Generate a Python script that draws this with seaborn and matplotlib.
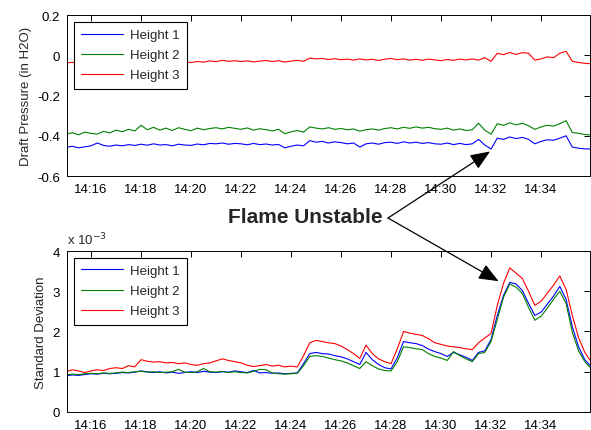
import numpy as np
import pandas as pd
import seaborn as sns
import matplotlib.pyplot as plt

# time axis: minutes after 14:15:00, one reading every 15 s
minutes = np.arange(85) * 0.25

tick_pos = [1, 3, 5, 7, 9, 11, 13, 15, 17, 19]
tick_labels = ['14:16', '14:18', '14:20', '14:22', '14:24',
               '14:26', '14:28', '14:30', '14:32', '14:34']

# draft pressure (in H2O)
press_h1 = [-0.458, -0.452, -0.460, -0.455, -0.450, -0.436, -0.448, -0.452,
            -0.446, -0.450, -0.444, -0.448, -0.442, -0.447, -0.440, -0.446,
            -0.444, -0.450, -0.442, -0.446, -0.448, -0.441, -0.445, -0.438,
            -0.440, -0.436, -0.442, -0.438, -0.440, -0.445, -0.438, -0.444,
            -0.441, -0.446, -0.443, -0.460, -0.452, -0.446, -0.450, -0.424,
            -0.432, -0.428, -0.436, -0.430, -0.434, -0.440, -0.436, -0.456,
            -0.440, -0.436, -0.442, -0.434, -0.432, -0.438, -0.430, -0.436,
            -0.432, -0.438, -0.434, -0.440, -0.442, -0.436, -0.444, -0.438,
            -0.444, -0.440, -0.418, -0.446, -0.466, -0.412, -0.418, -0.406,
            -0.414, -0.408, -0.418, -0.440, -0.428, -0.420, -0.422, -0.412,
            -0.400, -0.456, -0.462, -0.465, -0.466]
press_h2 = [-0.392, -0.385, -0.395, -0.382, -0.388, -0.392, -0.378, -0.386,
            -0.372, -0.380, -0.368, -0.376, -0.348, -0.370, -0.358, -0.372,
            -0.362, -0.374, -0.360, -0.368, -0.375, -0.362, -0.370, -0.364,
            -0.360, -0.366, -0.358, -0.363, -0.368, -0.361, -0.372, -0.365,
            -0.370, -0.376, -0.368, -0.390, -0.380, -0.374, -0.382, -0.356,
            -0.362, -0.366, -0.360, -0.368, -0.364, -0.370, -0.366, -0.377,
            -0.370, -0.366, -0.372, -0.364, -0.360, -0.366, -0.358, -0.363,
            -0.356, -0.362, -0.358, -0.365, -0.368, -0.362, -0.372, -0.366,
            -0.374, -0.370, -0.338, -0.372, -0.392, -0.340, -0.348, -0.336,
            -0.346, -0.338, -0.350, -0.368, -0.356, -0.348, -0.352, -0.340,
            -0.325, -0.384, -0.388, -0.394, -0.396]
press_h3 = [-0.038, -0.035, -0.040, -0.036, -0.033, -0.038, -0.035, -0.031,
            -0.036, -0.033, -0.037, -0.034, -0.030, -0.035, -0.032, -0.036,
            -0.031, -0.034, -0.029, -0.033, -0.036, -0.031, -0.034, -0.028,
            -0.032, -0.025, -0.030, -0.027, -0.031, -0.028, -0.033, -0.029,
            -0.026, -0.031, -0.027, -0.034, -0.029, -0.025, -0.030, -0.014,
            -0.018, -0.016, -0.021, -0.017, -0.022, -0.019, -0.024, -0.018,
            -0.023, -0.020, -0.026, -0.019, -0.016, -0.022, -0.018, -0.024,
            -0.020, -0.025, -0.019, -0.023, -0.027, -0.021, -0.025, -0.019,
            -0.023, -0.018, -0.024, -0.012, -0.030, 0.010, 0.003, 0.014,
            0.004, 0.013, 0.010, -0.024, -0.018, -0.008, -0.012, 0.010,
            0.020, -0.030, -0.036, -0.040, -0.042]

# standard deviation (x 10^-3)
std_h1 = [0.90, 0.92, 0.91, 0.93, 0.95, 0.94, 0.96, 0.95,
          0.96, 0.98, 0.97, 0.99, 1.02, 1.00, 0.98, 1.00,
          0.97, 0.99, 0.96, 0.98, 1.00, 0.98, 1.01, 0.99,
          0.98, 1.00, 0.99, 1.02, 1.00, 0.98, 1.03, 0.97,
          0.98, 0.96, 0.97, 0.95, 0.96, 0.97, 1.20, 1.45,
          1.48, 1.45, 1.44, 1.40, 1.37, 1.32, 1.25, 1.18,
          1.48, 1.30, 1.18, 1.10, 1.07, 1.35, 1.75, 1.72,
          1.70, 1.65, 1.56, 1.50, 1.45, 1.38, 1.48, 1.42,
          1.36, 1.28, 1.48, 1.52, 1.80, 2.40, 2.90, 3.22,
          3.18, 3.02, 2.70, 2.40, 2.48, 2.68, 2.88, 3.12,
          2.80, 2.12, 1.62, 1.30, 1.13]
std_h2 = [0.92, 0.94, 0.93, 0.95, 0.96, 0.95, 0.97, 0.96,
          0.97, 0.99, 0.98, 1.00, 1.01, 0.99, 1.00, 0.98,
          0.99, 1.00, 1.06, 0.99, 0.98, 1.00, 1.08, 1.00,
          0.99, 1.01, 0.98, 1.00, 0.98, 0.97, 1.01, 1.06,
          1.05, 0.97, 0.95, 0.94, 0.95, 0.96, 1.15, 1.38,
          1.40, 1.38, 1.34, 1.30, 1.27, 1.22, 1.15, 1.08,
          1.25, 1.15, 1.07, 1.03, 1.02, 1.25, 1.62, 1.60,
          1.57, 1.55, 1.45, 1.38, 1.34, 1.28, 1.50, 1.40,
          1.32, 1.25, 1.45, 1.48, 1.75, 2.30, 2.85, 3.18,
          3.10, 2.95, 2.60, 2.28, 2.38, 2.58, 2.80, 3.00,
          2.70, 1.98, 1.52, 1.25, 1.08]
std_h3 = [1.00, 1.05, 1.02, 0.98, 1.02, 1.05, 1.03, 1.08,
          1.10, 1.08, 1.15, 1.12, 1.30, 1.26, 1.24, 1.25,
          1.22, 1.23, 1.20, 1.22, 1.18, 1.16, 1.20, 1.22,
          1.27, 1.32, 1.28, 1.25, 1.22, 1.16, 1.13, 1.15,
          1.18, 1.14, 1.16, 1.12, 1.14, 1.12, 1.40, 1.72,
          1.78, 1.75, 1.72, 1.70, 1.64, 1.55, 1.45, 1.33,
          1.66, 1.45, 1.32, 1.25, 1.20, 1.57, 2.00, 1.96,
          1.93, 1.90, 1.82, 1.72, 1.68, 1.64, 1.62, 1.60,
          1.57, 1.55, 1.72, 1.84, 1.95, 2.65, 3.20, 3.58,
          3.45, 3.32, 3.00, 2.65, 2.75, 2.95, 3.15, 3.38,
          3.05, 2.40, 1.85, 1.48, 1.25]

labels = ['Height 1', 'Height 2', 'Height 3']
colors = ['#0000ff', '#008000', '#ff0000']

sns.set_style('white')
plt.rcParams['font.family'] = ['Liberation Sans', 'DejaVu Sans']
plt.rcParams['axes.unicode_minus'] = False
plt.rcParams['axes.edgecolor'] = 'black'
plt.rcParams['axes.linewidth'] = 0.7

fig = plt.figure(figsize=(5.91, 4.31), dpi=100)
ax1 = fig.add_axes([0.1134, 0.5893, 0.885, 0.3735])
ax2 = fig.add_axes([0.1134, 0.0418, 0.885, 0.3735])

top = pd.DataFrame({'t': minutes, 'Height 1': press_h1,
                    'Height 2': press_h2, 'Height 3': press_h3})
bot = pd.DataFrame({'t': minutes, 'Height 1': std_h1,
                    'Height 2': std_h2, 'Height 3': std_h3})

for lab, c in zip(labels, colors):
    sns.lineplot(data=top, x='t', y=lab, color=c, lw=0.8, label=lab, ax=ax1)
    sns.lineplot(data=bot, x='t', y=lab, color=c, lw=0.8, label=lab, ax=ax2)

for ax in (ax1, ax2):
    ax.set_xlim(0.04, 20.96)
    ax.set_xticks(tick_pos)
    ax.set_xticklabels(tick_labels)
    ax.set_xlabel('')
    ax.tick_params(direction='in', top=True, right=True, length=4,
                   width=0.7, labelsize=9.5, colors='black', pad=5)
    for s in ax.spines.values():
        s.set_visible(True)
        s.set_color('black')
    leg = ax.legend(loc='upper left', fontsize=9.5, handlelength=3.2,
                    labelspacing=0.6, borderpad=0.55, handletextpad=0.5,
                    fancybox=False, framealpha=1, edgecolor='black',
                    borderaxespad=0.5)
    leg.get_frame().set_linewidth(0.8)

ax1.set_ylim(-0.6, 0.2)
ax1.set_yticks([-0.6, -0.4, -0.2, 0, 0.2])
ax1.set_yticklabels(['-0.6', '-0.4', '-0.2', '0', '0.2'])
ax1.set_ylabel('Draft Pressure (in H2O)', fontsize=9.5)

ax2.set_ylim(0, 4)
ax2.set_yticks([0, 1, 2, 3, 4])
ax2.set_ylabel('Standard Deviation', fontsize=9.5)
ax2.text(0, 1.02, r'x 10$^{-3}$', transform=ax2.transAxes,
         ha='left', va='bottom', fontsize=9.5)

# annotation
fig.text(383 / 591, 213 / 431, 'Flame Unstable', fontsize=15,
         fontweight='bold', ha='right', va='center')
arrow = dict(arrowstyle='-|>,head_length=1.1,head_width=0.45',
             color='black', lw=0.9, mutation_scale=11, shrinkA=0, shrinkB=0)
ax1.annotate('', xy=(16.96, -0.478), xycoords='data',
             xytext=(388, 212), textcoords='figure pixels',
             arrowprops=arrow, annotation_clip=False)
ax2.annotate('', xy=(17.3, 3.25), xycoords='data',
             xytext=(388, 212), textcoords='figure pixels',
             arrowprops=arrow, annotation_clip=False)

fig.savefig('out.png', dpi=100)
